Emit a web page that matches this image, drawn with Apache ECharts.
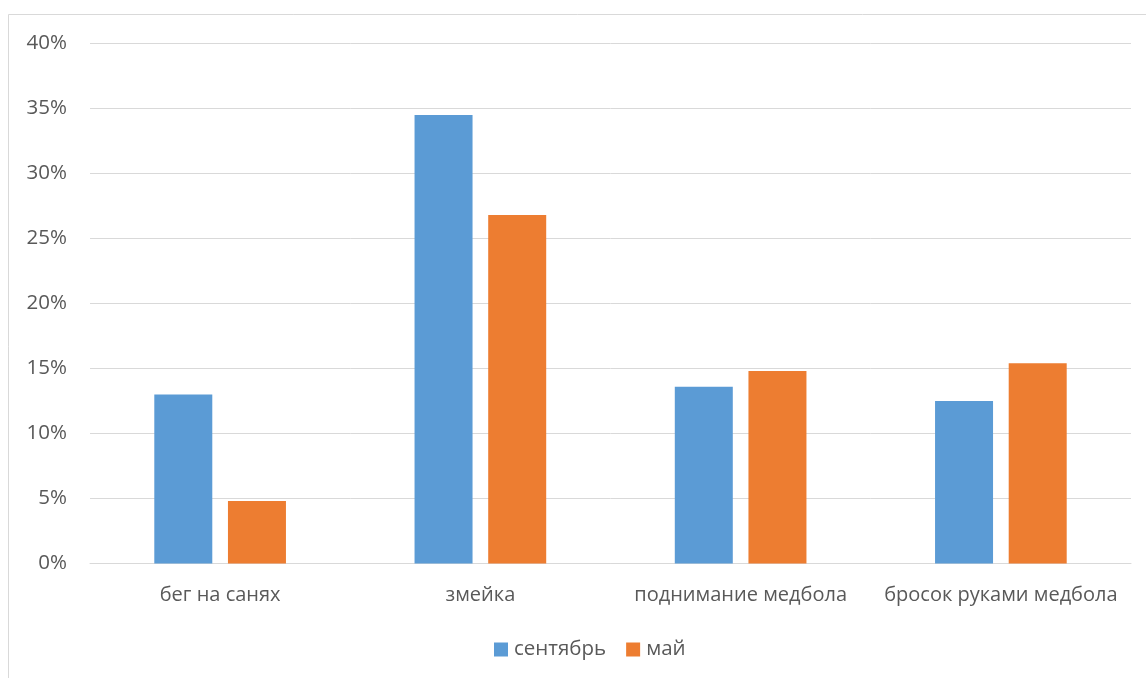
<!DOCTYPE html>
<html>
<head>
<meta charset="utf-8">
<script src="https://cdn.jsdelivr.net/npm/echarts@6/dist/echarts.min.js"></script>
<style>
  html, body { margin: 0; padding: 0; background: #fff; }
  #chart { width: 1146px; height: 678px; }
</style>
</head>
<body>
<div id="chart"></div>
<script>
// Exercise categories
const categories = ['бег на санях', 'змейка', 'поднимание медбола', 'бросок руками медбола'];
// Share of results, percent
const september = [13.0, 34.5, 13.6, 12.5];
const may = [4.8, 26.8, 14.8, 15.4];
const seriesNames = ['сентябрь', 'май'];

const textColor = '#595959';
const fontFamily = '"Open Sans", "Noto Sans", sans-serif';

const chart = echarts.init(document.getElementById('chart'), null, { renderer: 'canvas' });
chart.setOption({
  animation: false,
  backgroundColor: '#fff',
  textStyle: { fontFamily: fontFamily, color: textColor },
  // light frame around the chart area
  graphic: [{
    type: 'rect',
    x: 8.5, y: 14.5,
    shape: { x: 0, y: 0, width: 1200, height: 700 },
    style: { fill: 'none', stroke: '#d9d9d9', lineWidth: 1 },
    silent: true
  }],
  grid: { left: 90, right: 15, top: 43.5, bottom: 114.5, containLabel: false },
  legend: {
    top: 634,
    left: 489,
    itemWidth: 14, itemHeight: 14, itemGap: 20,
    icon: 'rect',
    textStyle: { fontSize: 20.5, color: textColor, fontFamily: fontFamily, padding: [0, 0, 0, 1] },
    data: seriesNames
  },
  xAxis: {
    type: 'category',
    data: categories,
    axisLine: { show: true, lineStyle: { color: '#d9d9d9', width: 1 } },
    axisTick: { show: false },
    axisLabel: { color: textColor, fontSize: 20, margin: 22, fontFamily: fontFamily, interval: 0 }
  },
  yAxis: {
    type: 'value',
    min: 0, max: 40, interval: 5,
    axisLine: { show: false },
    axisTick: { show: false },
    splitLine: { lineStyle: { color: '#d9d9d9', width: 1 } },
    axisLabel: { color: textColor, fontSize: 20.5, margin: 23, fontFamily: fontFamily, formatter: '{value}%' }
  },
  series: [
    {
      name: seriesNames[0], type: 'bar', data: september,
      barWidth: 58, barGap: '27%',
      itemStyle: { color: '#5B9BD5' }
    },
    {
      name: seriesNames[1], type: 'bar', data: may,
      barWidth: 58, barGap: '27%',
      itemStyle: { color: '#ED7D31' }
    }
  ]
});
</script>
</body>
</html>
